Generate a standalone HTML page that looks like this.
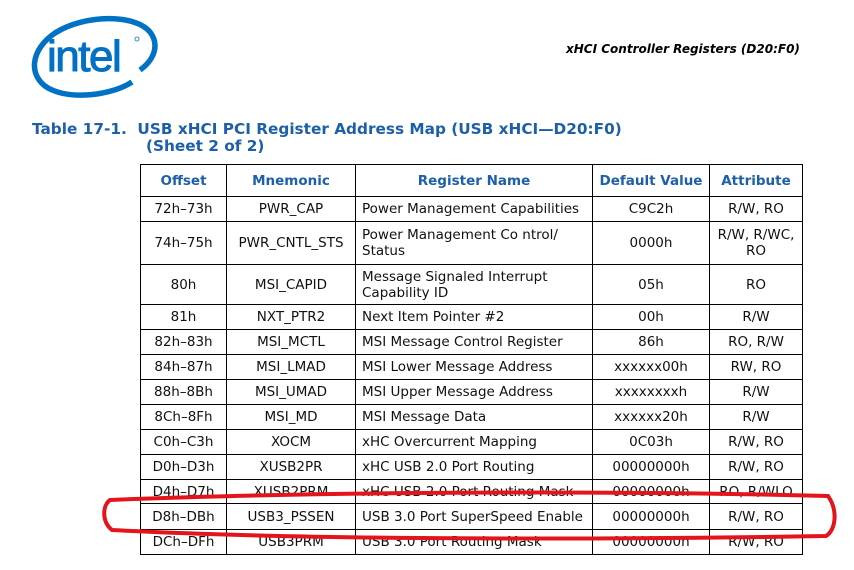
<!DOCTYPE html>
<html><head><style>
body{margin:0;width:854px;height:570px;background:#fff;position:relative;overflow:hidden;font-family:"DejaVu Sans","Liberation Sans",sans-serif}
.t{position:absolute;white-space:nowrap}
table{position:absolute;left:140px;top:164px;border-collapse:collapse;font-size:13.5px;color:#111}
td,th{border:1.5px solid #000;text-align:center;padding:0 4px;line-height:16px}
th{color:#1d5fa8;font-weight:bold;height:31px}
td.l{text-align:left;padding-left:6px}
</style></head><body>
<svg width="180" height="110" style="position:absolute;left:0;top:0">
<path d="M132,82 C110,96 70,100 48,88 C28,76 30,50 55,33 C85,14 135,14 150,32 C160,45 154,60 140,70" fill="none" stroke="#0071c5" stroke-width="5.5"/>
<text x="47" y="71" font-family="Liberation Sans,sans-serif" font-size="44" fill="#0071c5" stroke="#0071c5" stroke-width="1" letter-spacing="-1.5">intel</text>
<circle cx="137" cy="39" r="2" fill="none" stroke="#0071c5" stroke-width="0.8"/>
</svg>
<div class="t" style="left:566px;top:42px;font-size:12px;font-weight:bold;font-style:italic;color:#000">xHCI Controller Registers (D20:F0)</div>
<div class="t" style="left:32px;top:121px;font-size:15.3px;font-weight:bold;color:#1d5fa8;line-height:17px">Table 17-1.&nbsp; USB xHCI PCI Register Address Map (USB xHCI—D20:F0)<br><span style="padding-left:114px">(Sheet 2 of 2)</span></div>
<table>
<tr><th style="width:77px">Offset</th><th style="width:120px">Mnemonic</th><th style="width:228px">Register Name</th><th style="width:108px">Default Value</th><th style="width:84px">Attribute</th></tr>
<tr style="height:25px"><td>72h–73h</td><td>PWR_CAP</td><td class="l">Power Management Capabilities</td><td>C9C2h</td><td>R/W, RO</td></tr>
<tr style="height:43px"><td>74h–75h</td><td>PWR_CNTL_STS</td><td class="l">Power Management Co ntrol/<br>Status</td><td>0000h</td><td>R/W, R/WC,<br>RO</td></tr>
<tr style="height:40px"><td>80h</td><td>MSI_CAPID</td><td class="l">Message Signaled Interrupt<br>Capability ID</td><td>05h</td><td>RO</td></tr>
<tr style="height:25px"><td>81h</td><td>NXT_PTR2</td><td class="l">Next Item Pointer #2</td><td>00h</td><td>R/W</td></tr>
<tr style="height:25px"><td>82h–83h</td><td>MSI_MCTL</td><td class="l">MSI Message Control Register</td><td>86h</td><td>RO, R/W</td></tr>
<tr style="height:25px"><td>84h–87h</td><td>MSI_LMAD</td><td class="l">MSI Lower Message Address</td><td>xxxxxx00h</td><td>RW, RO</td></tr>
<tr style="height:25px"><td>88h–8Bh</td><td>MSI_UMAD</td><td class="l">MSI Upper Message Address</td><td>xxxxxxxxh</td><td>R/W</td></tr>
<tr style="height:25px"><td>8Ch–8Fh</td><td>MSI_MD</td><td class="l">MSI Message Data</td><td>xxxxxx20h</td><td>R/W</td></tr>
<tr style="height:25px"><td>C0h–C3h</td><td>XOCM</td><td class="l">xHC Overcurrent Mapping</td><td>0C03h</td><td>R/W, RO</td></tr>
<tr style="height:25px"><td>D0h–D3h</td><td>XUSB2PR</td><td class="l">xHC USB 2.0 Port Routing</td><td>00000000h</td><td>R/W, RO</td></tr>
<tr style="height:24px"><td>D4h–D7h</td><td>XUSB2PRM</td><td class="l">xHC USB 2.0 Port Routing Mask</td><td>00000000h</td><td>RO, R/WLO</td></tr>
<tr style="height:26px"><td>D8h–DBh</td><td>USB3_PSSEN</td><td class="l">USB 3.0 Port SuperSpeed Enable</td><td>00000000h</td><td>R/W, RO</td></tr>
<tr style="height:25px"><td>DCh–DFh</td><td>USB3PRM</td><td class="l">USB 3.0 Port Routing Mask</td><td>00000000h</td><td>R/W, RO</td></tr>
</table>
<svg width="854" height="570" style="position:absolute;left:0;top:0">
<path d="M110,500 C300,492 600,490 828,496 C838,510 836,530 826,536 C600,540 300,540 112,530 C102,522 102,506 110,500 Z" fill="none" stroke="#e3141b" stroke-width="4"/>
</svg>
</body></html>
